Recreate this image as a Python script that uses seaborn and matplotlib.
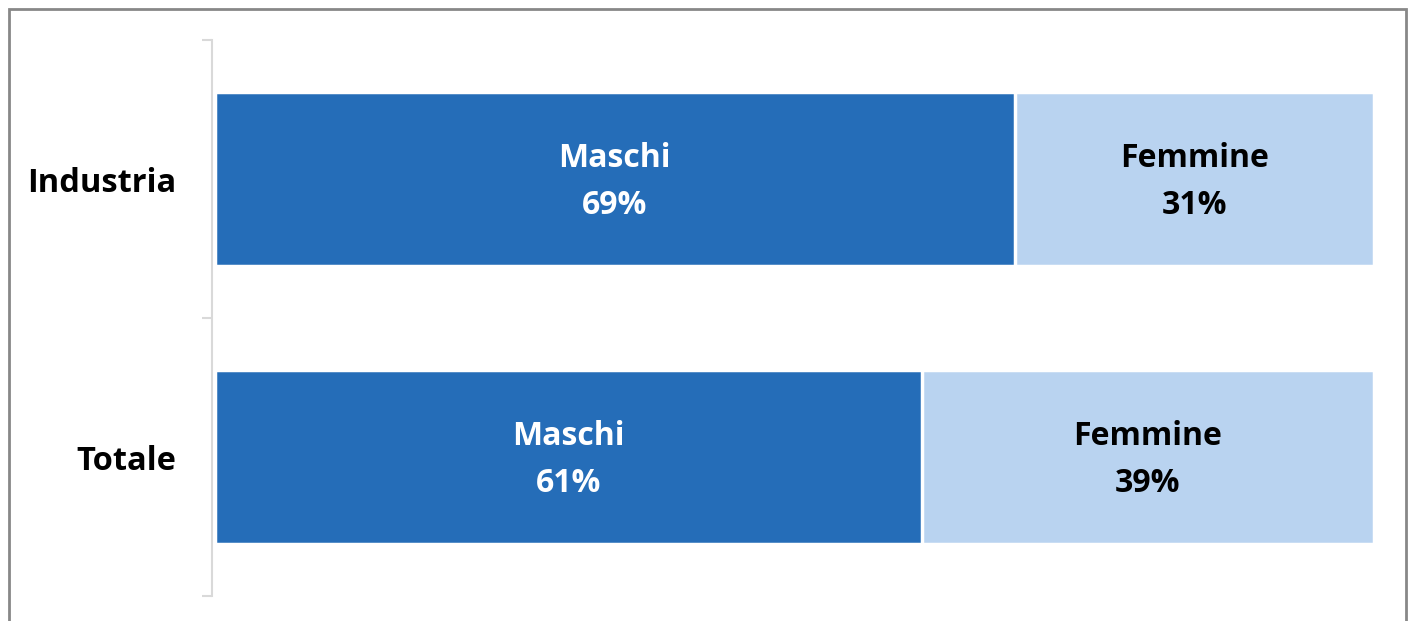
import matplotlib
matplotlib.use("Agg")
import matplotlib.pyplot as plt
import pandas as pd
import seaborn as sns
from matplotlib.patches import Rectangle

categories = ["Industria", "Totale"]
maschi = [69, 61]
femmine = [31, 39]
series_labels = ["Maschi", "Femmine"]

dark_blue = "#256DB8"
light_blue = "#B9D3F0"

df = pd.DataFrame({"categoria": categories, "Maschi": maschi, "Femmine": femmine})
df["totale"] = df["Maschi"] + df["Femmine"]

sns.set_style("white")
plt.rcParams["font.family"] = ["Open Sans", "DejaVu Sans"]
plt.rcParams["font.weight"] = "bold"  # every text in the chart is bold

fig = plt.figure(figsize=(14.1, 6.21), dpi=100)
ax = fig.add_axes([215 / 1410, 1 - 596 / 621, (1374 - 215) / 1410, 556 / 621])

# stacked: total (light) underneath, males drawn on top
sns.barplot(data=df, y="categoria", x="totale", color=light_blue, orient="h", saturation=1,
            width=0.625, edgecolor="white", linewidth=2.5, ax=ax)
sns.barplot(data=df, y="categoria", x="Maschi", color=dark_blue, orient="h", saturation=1,
            width=0.625, edgecolor="white", linewidth=2.5, ax=ax)

for i, cat in enumerate(categories):
    ax.text(maschi[i] / 2, i + 0.01, f"{series_labels[0]}\n{maschi[i]}%", ha="center", va="center",
            color="white", fontsize=23, fontweight="bold", linespacing=1.55)
    ax.text(maschi[i] + femmine[i] / 2, i + 0.01, f"{series_labels[1]}\n{femmine[i]}%", ha="center",
            va="center", color="black", fontsize=23, fontweight="bold", linespacing=1.55)

ax.set_xlim(0, 100)
ax.set_ylim(1.5, -0.5)
ax.set_xlabel("")
ax.set_ylabel("")
ax.set_xticks([])
ax.set_yticks(range(len(categories)), labels=categories)
ax.set_yticks([-0.5, 0.5, 1.5], minor=True)
ax.tick_params(axis="y", which="major", length=0, pad=26, labelsize=23.5, labelcolor="black")
ax.tick_params(axis="y", which="minor", length=7, width=1.5, color="#D9D9D9", left=True)

for side in ["top", "right", "bottom"]:
    ax.spines[side].set_visible(False)
ax.spines["left"].set_color("#D9D9D9")
ax.spines["left"].set_linewidth(1.5)
ax.spines["left"].set_position(("outward", 2))

# outer frame of the chart area
fig.patches.append(Rectangle((9 / 1410, -0.05), (1406 - 9) / 1410, 1.05 - 9 / 621,
                             transform=fig.transFigure, fill=False,
                             edgecolor="#888888", linewidth=2))

fig.savefig("out.png", dpi=100)
